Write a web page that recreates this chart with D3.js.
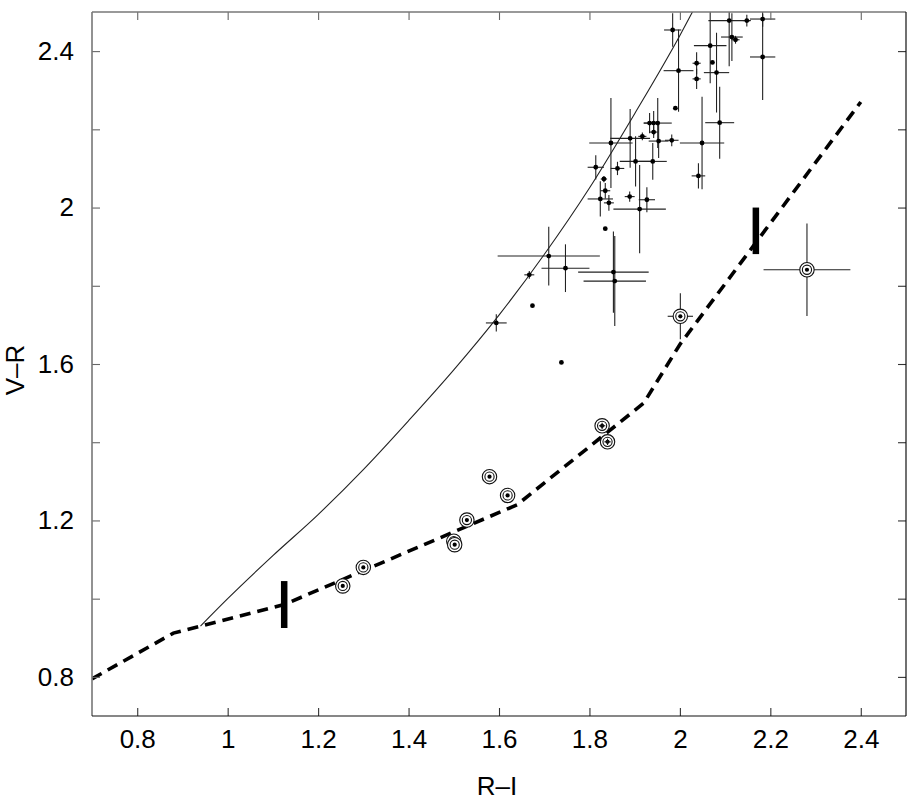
<!DOCTYPE html>
<html>
<head>
<meta charset="utf-8">
<script src="https://cdn.jsdelivr.net/npm/d3@7"></script>
<style>
  html, body { margin: 0; padding: 0; background: #fff; }
  svg { display: block; }
  text { font-family: "Liberation Sans", Arial, Helvetica, sans-serif; fill: #000; }
</style>
</head>
<body>
<svg id="chart" width="920" height="802"></svg>
<script>
// ---------- data ----------
const xTicks = [0.8, 1.0, 1.2, 1.4, 1.6, 1.8, 2.0, 2.2, 2.4];
const xTickLabels = ["0.8", "1", "1.2", "1.4", "1.6", "1.8", "2", "2.2", "2.4"];
const yTicks = [0.8, 1.0, 1.2, 1.4, 1.6, 1.8, 2.0, 2.2, 2.4];
const yTickLabels = ["0.8", "", "1.2", "", "1.6", "", "2", "", "2.4"];

// thin solid curve
const curveRI = [0.94, 1.0, 1.1, 1.2, 1.3, 1.4, 1.5, 1.6, 1.7, 1.8, 1.9, 2.0, 2.03];
const curveVR = [0.93, 1.0, 1.11, 1.215, 1.33, 1.455, 1.585, 1.725, 1.88, 2.05, 2.24, 2.44, 2.505];

// thick dashed line
const dashRI = [0.70, 0.88, 0.94, 1.125, 1.64, 1.92, 2.0, 2.4];
const dashVR = [0.795, 0.912, 0.93, 0.985, 1.24, 1.50, 1.65, 2.27];

// thick vertical bars
const barRI = [1.125, 2.168];
const barLo = [0.925, 1.881];
const barHi = [1.045, 2.0];

// dot points with error bars: R-I, V-R, err(R-I), err(V-R)
const ptRI = [1.594, 1.667, 1.674, 1.710, 1.747, 1.738, 1.835, 1.853, 1.856,
  1.8475, 1.890, 1.917, 1.933, 1.942, 1.951, 1.942, 1.953, 1.982, 1.990, 1.997,
  1.984, 2.037, 2.037, 2.072, 2.067, 2.081, 2.088, 2.049, 2.041, 2.109, 2.115,
  2.123, 2.148, 2.183, 2.183, 1.814, 1.862, 1.902, 1.940, 1.832, 1.835, 1.824,
  1.843, 1.889, 1.927, 1.911];
const ptVR = [1.705, 1.828, 1.749, 1.876, 1.845, 1.604, 1.946, 1.835, 1.812,
  2.165, 2.177, 2.182, 2.216, 2.216, 2.216, 2.193, 2.170, 2.172, 2.254, 2.350,
  2.454, 2.369, 2.329, 2.371, 2.414, 2.345, 2.217, 2.165, 2.081, 2.478, 2.436,
  2.429, 2.478, 2.482, 2.385, 2.103, 2.100, 2.118, 2.118, 2.073, 2.043, 2.022,
  2.012, 2.028, 2.020, 1.996];
const ptErrRI = [0.023, 0.011, 0, 0.113, 0.053, 0, 0, 0.078, 0.069,
  0.048, 0.044, 0.009, 0.013, 0.009, 0.031, 0.009, 0.022, 0.015, 0, 0.033,
  0.019, 0.009, 0.009, 0, 0.036, 0.028, 0.032, 0.049, 0.015, 0.046, 0.024,
  0.009, 0.009, 0.028, 0.028, 0.018, 0.015, 0.035, 0.031, 0.007, 0.011, 0.028,
  0.011, 0.011, 0.018, 0.058];
const ptErrVR = [0.022, 0.010, 0, 0.075, 0.061, 0, 0, 0.104, 0.115,
  0.115, 0.075, 0.010, 0.026, 0.031, 0.064, 0.015, 0.043, 0.015, 0, 0.105,
  0.043, 0.028, 0.026, 0, 0.096, 0.102, 0.092, 0.118, 0.032, 0.117, 0.061,
  0.010, 0.015, 0.020, 0.110, 0.031, 0.017, 0.064, 0.047, 0.008, 0.020, 0.045,
  0.020, 0.013, 0.032, 0.113];

// circled points
const cirRI = [1.2545, 1.300, 1.500, 1.502, 1.529, 1.579, 1.619, 1.828, 1.840, 2.001, 2.281];
const cirVR = [1.0325, 1.080, 1.147, 1.138, 1.201, 1.312, 1.264, 1.442, 1.401, 1.722, 1.841];
const cirErrRI = [0, 0, 0, 0, 0, 0, 0, 0.007, 0.007, 0.028, 0.096];
const cirErrVR = [0, 0, 0, 0, 0, 0, 0, 0.008, 0.008, 0.059, 0.118];

// ---------- layout ----------
const L = 92, R = 906, T = 12, B = 716;
const x = d3.scaleLinear().domain([0.7, 2.5]).range([L, R]);
const y = d3.scaleLinear().domain([0.7, 2.5]).range([B, T]);

const svg = d3.select("#chart");

svg.append("defs").append("clipPath").attr("id", "clip")
  .append("rect").attr("x", L).attr("y", T).attr("width", R - L).attr("height", B - T);

const plot = svg.append("g").attr("clip-path", "url(#clip)");

// curve
plot.append("path")
  .datum(curveRI.map((v, i) => [v, curveVR[i]]))
  .attr("fill", "none").attr("stroke", "#222").attr("stroke-width", 1.1)
  .attr("d", d3.line().x(d => x(d[0])).y(d => y(d[1])).curve(d3.curveMonotoneX));

// dashed line
plot.append("path")
  .datum(dashRI.map((v, i) => [v, dashVR[i]]))
  .attr("fill", "none").attr("stroke", "#000").attr("stroke-width", 3.6)
  .attr("stroke-dasharray", "11,7")
  .attr("d", d3.line().x(d => x(d[0])).y(d => y(d[1])));

// thick bars
barRI.forEach((v, i) => {
  plot.append("line")
    .attr("x1", x(v)).attr("x2", x(v))
    .attr("y1", y(barLo[i])).attr("y2", y(barHi[i]))
    .attr("stroke", "#000").attr("stroke-width", 6.5);
});

// error bars for dots
const eb = plot.append("g").attr("stroke", "#222").attr("stroke-width", 1.1);
ptRI.forEach((v, i) => {
  if (ptErrRI[i] > 0)
    eb.append("line").attr("x1", x(v - ptErrRI[i])).attr("x2", x(v + ptErrRI[i]))
      .attr("y1", y(ptVR[i])).attr("y2", y(ptVR[i]));
  if (ptErrVR[i] > 0)
    eb.append("line").attr("x1", x(v)).attr("x2", x(v))
      .attr("y1", y(ptVR[i] - ptErrVR[i])).attr("y2", y(ptVR[i] + ptErrVR[i]));
});
plot.append("g").selectAll("circle").data(ptRI).join("circle")
  .attr("cx", d => x(d)).attr("cy", (d, i) => y(ptVR[i])).attr("r", 2.4).attr("fill", "#000");

// circled points
const cg = plot.append("g");
cirRI.forEach((v, i) => {
  if (cirErrRI[i] > 0)
    cg.append("line").attr("x1", x(v - cirErrRI[i])).attr("x2", x(v + cirErrRI[i]))
      .attr("y1", y(cirVR[i])).attr("y2", y(cirVR[i])).attr("stroke", "#222").attr("stroke-width", 1.1);
  if (cirErrVR[i] > 0)
    cg.append("line").attr("x1", x(v)).attr("x2", x(v))
      .attr("y1", y(cirVR[i] - cirErrVR[i])).attr("y2", y(cirVR[i] + cirErrVR[i])).attr("stroke", "#222").attr("stroke-width", 1.1);
});
cirRI.forEach((v, i) => {
  const cx = x(v), cy = y(cirVR[i]);
  cg.append("circle").attr("cx", cx).attr("cy", cy).attr("r", 7.2).attr("fill", "#fff").attr("stroke", "#111").attr("stroke-width", 1.1);
  cg.append("circle").attr("cx", cx).attr("cy", cy).attr("r", 4.6).attr("fill", "none").attr("stroke", "#111").attr("stroke-width", 1.1);
  cg.append("circle").attr("cx", cx).attr("cy", cy).attr("r", 2.1).attr("fill", "#000");
});
// redraw short inner error bars on top of circle fill
cirRI.forEach((v, i) => {
  if (cirErrRI[i] > 0 && cirErrRI[i] < 0.02) {
    cg.append("line").attr("x1", x(v - cirErrRI[i])).attr("x2", x(v + cirErrRI[i]))
      .attr("y1", y(cirVR[i])).attr("y2", y(cirVR[i])).attr("stroke", "#111").attr("stroke-width", 1.1);
    cg.append("line").attr("x1", x(v)).attr("x2", x(v))
      .attr("y1", y(cirVR[i] - cirErrVR[i])).attr("y2", y(cirVR[i] + cirErrVR[i])).attr("stroke", "#111").attr("stroke-width", 1.1);
  }
});

// ---------- axes / frame ----------
const tl = 8;
const axB = d3.axisBottom(x).tickValues(xTicks).tickSize(-tl).tickFormat((d, i) => xTickLabels[i]).tickPadding(14);
const axT = d3.axisTop(x).tickValues(xTicks).tickSize(-tl).tickFormat("");
const axL = d3.axisLeft(y).tickValues(yTicks).tickSize(-tl).tickFormat((d, i) => yTickLabels[i]).tickPadding(18);
const axR = d3.axisRight(y).tickValues(yTicks).tickSize(-tl).tickFormat("");

function styleAxis(g, color) {
  g.select(".domain").remove();
  g.selectAll(".tick line").attr("stroke", color).attr("stroke-width", 1.1);
  g.selectAll(".tick text").attr("font-size", 26).attr("fill", "#000")
    .attr("font-family", "'Liberation Sans', Arial, Helvetica, sans-serif");
}
svg.append("g").attr("transform", `translate(0,${B})`).call(axB).call(g => styleAxis(g, "#333"));
svg.append("g").attr("transform", `translate(0,${T})`).call(axT).call(g => styleAxis(g, "#666"));
svg.append("g").attr("transform", `translate(${L},0)`).call(axL).call(g => styleAxis(g, "#666"));
svg.append("g").attr("transform", `translate(${R},0)`).call(axR).call(g => styleAxis(g, "#333"));

// frame
svg.append("line").attr("x1", L).attr("x2", L).attr("y1", T).attr("y2", B).attr("stroke", "#777").attr("stroke-width", 1.6);
svg.append("line").attr("x1", L).attr("x2", R).attr("y1", T).attr("y2", T).attr("stroke", "#777").attr("stroke-width", 1.6);
svg.append("line").attr("x1", L).attr("x2", R).attr("y1", B).attr("y2", B).attr("stroke", "#111").attr("stroke-width", 1.2);
svg.append("line").attr("x1", R).attr("x2", R).attr("y1", T).attr("y2", B).attr("stroke", "#111").attr("stroke-width", 1.2);

// axis titles
svg.append("text").attr("x", 497).attr("y", 795).attr("text-anchor", "middle")
  .attr("font-size", 26).text("R–I");
svg.append("text").attr("transform", "translate(24,370) rotate(-90)").attr("text-anchor", "middle")
  .attr("font-size", 26).text("V–R");
</script>
</body>
</html>
